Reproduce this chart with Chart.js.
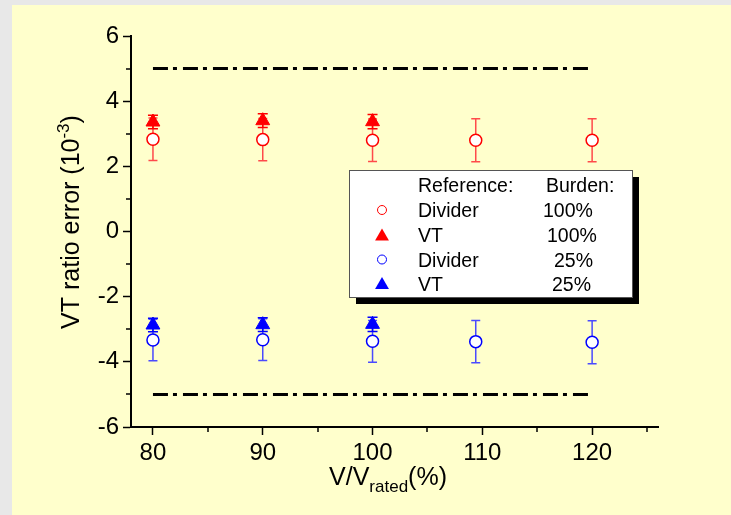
<!DOCTYPE html>
<html><head><meta charset="utf-8">
<script src="https://cdn.jsdelivr.net/npm/chart.js@4/dist/chart.umd.min.js"></script>
<style>html,body{margin:0;padding:0;background:#e8e8e8;overflow:hidden}canvas{display:block}</style>
</head><body>
<canvas id="c" width="731" height="515" style="width:731px;height:515px"></canvas>
<script>
// ---- data ----
const xValues = [80, 90, 100, 109.4, 120];
const xValuesVT = [80, 90, 100];
const dividerFull = [2.83, 2.82, 2.80, 2.80, 2.80];
const dividerFullErr = [0.65, 0.65, 0.65, 0.66, 0.66];
const vtFull = [3.36, 3.40, 3.37];
const vtFullErr = [0.21, 0.21, 0.22];
const dividerQuarter = [-3.33, -3.32, -3.37, -3.38, -3.40];
const dividerQuarterErr = [0.64, 0.64, 0.64, 0.65, 0.66];
const vtQuarter = [-2.87, -2.86, -2.85];
const vtQuarterErr = [0.21, 0.21, 0.22];
const limitX = [80, 120];
const upperLimit = [5, 5];
const lowerLimit = [-5, -5];
const xTicks = [80, 90, 100, 110, 120];
const xMinorTicks = [85, 95, 105, 115, 125];
const yTicks = [-6, -4, -2, 0, 2, 4, 6];
const yMinorTicks = [-5, -3, -1, 1, 3, 5];
const legendHeader = ['Reference:', 'Burden:'];
const legendRefs = ['Divider', 'VT', 'Divider', 'VT'];
const legendBurdens = ['100%', '100%', '25%', '25%'];

const FONT = '"Liberation Sans", Arial, Helvetica, sans-serif';
const RED = '#ff0000', BLUE = '#0000ff';

const pts = (xs, ys) => xs.map((x, i) => ({x: x, y: ys[i]}));

const bgPlugin = {
  id: 'bg',
  beforeDraw(chart) {
    const c = chart.ctx;
    c.save();
    c.fillStyle = '#e8e8e8';
    c.fillRect(0, 0, chart.width, chart.height);
    c.fillStyle = '#ffffcc';
    c.fillRect(12, 5, chart.width - 12, chart.height - 5);
    c.restore();
  }
};

const errPlugin = {
  id: 'errbars',
  beforeDatasetsDraw(chart) {
    const c = chart.ctx, ys = chart.scales.y;
    chart.data.datasets.forEach((ds, di) => {
      if (!ds.errors) return;
      const meta = chart.getDatasetMeta(di);
      c.save();
      c.strokeStyle = ds.errColor;
      c.lineWidth = 1.5;
      meta.data.forEach((el, i) => {
        const v = ds.data[i].y, e = ds.errors[i];
        const yt = ys.getPixelForValue(v + e), yb = ys.getPixelForValue(v - e);
        const x = el.x, w = ds.capHalf;
        c.beginPath();
        c.moveTo(x, yt); c.lineTo(x, yb);
        c.moveTo(x - w, yt); c.lineTo(x + w, yt);
        c.moveTo(x - w, yb); c.lineTo(x + w, yb);
        c.stroke();
      });
      c.restore();
    });
  }
};

const minorPlugin = {
  id: 'minor',
  afterDraw(chart) {
    const c = chart.ctx, xs = chart.scales.x, ys = chart.scales.y, a = chart.chartArea;
    c.save();
    c.strokeStyle = '#000';
    c.lineWidth = 1.5;
    c.beginPath();
    xMinorTicks.forEach(v => { const p = Math.round(xs.getPixelForValue(v)); c.moveTo(p, a.bottom); c.lineTo(p, a.bottom + 5); });
    yMinorTicks.forEach(v => { const p = Math.round(ys.getPixelForValue(v)); c.moveTo(a.left, p); c.lineTo(a.left - 5, p); });
    c.stroke();
    c.restore();
  }
};

function drawRich(c, parts, x, y) {
  let cx = x;
  parts.forEach(p => {
    c.font = p[1] + 'px ' + FONT;
    c.fillText(p[0], cx, y + p[2]);
    cx += c.measureText(p[0]).width;
  });
  return cx - x;
}
function richWidth(c, parts) {
  let w = 0;
  parts.forEach(p => { c.font = p[1] + 'px ' + FONT; w += c.measureText(p[0]).width; });
  return w;
}

const titlePlugin = {
  id: 'titles',
  afterDraw(chart) {
    const c = chart.ctx;
    c.save();
    c.fillStyle = '#000';
    c.textBaseline = 'alphabetic';
    c.textAlign = 'left';
    const xParts = [['V/V', 25, 0], ['rated', 17, 7], ['(%)', 25, 0]];
    const xw = richWidth(c, xParts);
    drawRich(c, xParts, 388 - xw / 2, 485);
    const yParts = [['VT ratio error (10', 25, 0], ['-3', 17, -10], [')', 25, 0]];
    const yw = richWidth(c, yParts);
    c.translate(79, 222);
    c.rotate(-Math.PI / 2);
    drawRich(c, yParts, -yw / 2, 0);
    c.restore();
  }
};

const legendPlugin = {
  id: 'customLegend',
  afterDraw(chart) {
    const c = chart.ctx;
    const L = 349, T = 170, W = 283, H = 127, S = 7;
    c.save();
    c.fillStyle = '#000';
    c.fillRect(L + S, T + S, W, H);
    c.fillStyle = '#ffffff';
    c.fillRect(L, T, W, H);
    c.strokeStyle = '#555';
    c.lineWidth = 1;
    c.strokeRect(L + 0.5, T + 0.5, W, H);
    c.fillStyle = '#000';
    c.font = '19.5px ' + FONT;
    c.textBaseline = 'alphabetic';
    c.fillText(legendHeader[0], 418, 192);
    c.fillText(legendHeader[1], 546, 192);
    const base = [217, 242, 266.5, 290.5];
    const bx = [543, 547, 554, 552];
    const sets = chart.data.datasets.slice(0, 4);
    base.forEach((b, i) => {
      c.fillStyle = '#000';
      c.fillText(legendRefs[i], 418, b);
      c.fillText(legendBurdens[i], bx[i], b);
      const ds = sets[i];
      const sx = 382, sy = b - 7;
      if (ds.pointStyle === 'circle') {
        c.beginPath();
        c.arc(sx, sy, 4.5, 0, Math.PI * 2);
        c.fillStyle = '#fff'; c.fill();
        c.strokeStyle = ds.borderColor; c.lineWidth = 1; c.stroke();
      } else {
        const r = 8;
        c.beginPath();
        for (let k = 0; k < 3; k++) {
          const ang = k * 2 * Math.PI / 3;
          const px = sx + Math.sin(ang) * r, py = sy + 1.5 - Math.cos(ang) * r;
          if (k === 0) c.moveTo(px, py); else c.lineTo(px, py);
        }
        c.closePath();
        c.fillStyle = ds.backgroundColor; c.fill();
      }
    });
    c.restore();
  }
};

new Chart(document.getElementById('c'), {
  type: 'scatter',
  data: {
    datasets: [
      {label: 'Divider 100%', data: pts(xValues, dividerFull), errors: dividerFullErr, errColor: '#ff4a4a', capHalf: 4.5,
       pointStyle: 'circle', pointRadius: 6, pointBorderWidth: 1.5, borderColor: RED, backgroundColor: '#ffffff', order: 2},
      {label: 'VT 100%', data: pts(xValuesVT, vtFull), errors: vtFullErr, errColor: RED, capHalf: 5,
       pointStyle: 'triangle', pointRadius: 8, pointBorderWidth: 1, borderColor: RED, backgroundColor: RED, order: 1},
      {label: 'Divider 25%', data: pts(xValues, dividerQuarter), errors: dividerQuarterErr, errColor: '#4a4aff', capHalf: 4.5,
       pointStyle: 'circle', pointRadius: 6, pointBorderWidth: 1.5, borderColor: BLUE, backgroundColor: '#ffffff', order: 2},
      {label: 'VT 25%', data: pts(xValuesVT, vtQuarter), errors: vtQuarterErr, errColor: BLUE, capHalf: 5,
       pointStyle: 'triangle', pointRadius: 8, pointBorderWidth: 1, borderColor: BLUE, backgroundColor: BLUE, order: 1},
      {label: 'Upper limit', type: 'line', data: pts(limitX, upperLimit), borderColor: '#000', borderWidth: 3,
       borderDash: [15, 5, 4, 6], pointRadius: 0, fill: false, order: 3},
      {label: 'Lower limit', type: 'line', data: pts(limitX, lowerLimit), borderColor: '#000', borderWidth: 3,
       borderDash: [15, 5, 4, 6], pointRadius: 0, fill: false, order: 3}
    ]
  },
  options: {
    responsive: false,
    animation: false,
    events: [],
    layout: {padding: {top: 36, right: 73, bottom: 0, left: 0}},
    plugins: {legend: {display: false}, tooltip: {enabled: false}, title: {display: false}},
    scales: {
      x: {
        type: 'linear', position: 'bottom', min: 78, max: 126,
        afterBuildTicks: s => { s.ticks = xTicks.map(v => ({value: v})); },
        afterFit: s => { s.height = 88; },
        border: {display: true, color: '#000', width: 2},
        grid: {display: true, drawOnChartArea: false, drawTicks: true, tickLength: 8, tickWidth: 1.5, tickColor: '#000'},
        ticks: {color: '#000', font: {family: FONT, size: 24}, padding: 4, maxRotation: 0, autoSkip: false}
      },
      y: {
        type: 'linear', position: 'left', min: -6, max: 6,
        afterBuildTicks: s => { s.ticks = yTicks.map(v => ({value: v})); },
        afterFit: s => { s.width = 131; },
        border: {display: true, color: '#000', width: 2},
        grid: {display: true, drawOnChartArea: false, drawTicks: true, tickLength: 8, tickWidth: 1.5, tickColor: '#000'},
        ticks: {color: '#000', font: {family: FONT, size: 24}, padding: 4, autoSkip: false}
      }
    }
  },
  plugins: [bgPlugin, errPlugin, minorPlugin, titlePlugin, legendPlugin]
});
</script>
</body></html>
